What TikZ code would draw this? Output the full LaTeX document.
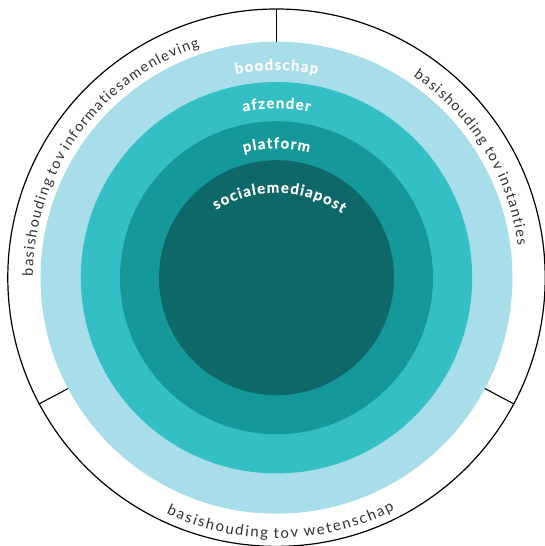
\documentclass[tikz,border=0pt]{standalone}
\usepackage{fontspec}
\setmainfont{Lato}
\newfontfamily\outerfont{Lato}
\newfontfamily\innerfont[BoldFeatures={FakeBold=0.4}]{Lato}
\newcommand\trk{\kern1.35pt}
\newcommand\trw{\kern1.75pt}
\newcommand\trb{\kern1.2pt}
\usetikzlibrary{decorations.text}
\definecolor{ringA}{RGB}{168,222,233}
\definecolor{ringB}{RGB}{51,191,196}
\definecolor{ringC}{RGB}{21,152,153}
\definecolor{ringD}{RGB}{13,104,103}
\definecolor{outertext}{RGB}{50,50,50}
\tikzset{
  divider/.style={line width=1.1pt, draw=black},
  rim/.style={line width=1.2pt, draw=black},
  outerlabel/.style={decorate, decoration={text along path, text align=center, text color=outertext,
      text={|\outerfont\fontsize{14.5}{15}\selectfont|#1}}},
  bottomlabel/.style={decorate, decoration={text along path, text align=center, text color=outertext,
      text={|\outerfont\fontsize{15}{15}\selectfont|#1}}},
  ringlabel/.style={decorate, decoration={text along path, text align=center, text color=white,
      text={|\innerfont\bfseries\fontsize{15}{15}\selectfont|#1}}},
}
\begin{document}
\begin{tikzpicture}[x=1pt,y=1pt]
\useasboundingbox (-276.5pt,-268.3pt) rectangle (268.5pt,277.7pt);
\clip (-276.5pt,-268.3pt) rectangle (268.5pt,277.7pt);
\fill[white] (-276.5pt,-268.3pt) rectangle (268.5pt,277.7pt);
% rings
\fill[ringA] (0,0) circle (236pt);
\fill[ringB] (0,0) circle (195.7pt);
\fill[ringC] (0,0) circle (156.5pt);
\fill[ringD] (0,0) circle (117.5pt);
% outer rim and dividers
\draw[rim] (0,0) circle (268.7pt);
\foreach \a in {90,208,332} \draw[divider] (\a:236pt) -- (\a:268.7pt);
% outer labels
\path[outerlabel={{b\trk}{a\trk}{s\trk}{i\trk}{s\trk}{h\trk}{o\trk}{u\trk}{d\trk}{i\trk}{n\trk}{g\trk} {t\trk}{o\trk}{v\trk} {i\trk}{n\trk}{f\trk}{o\trk}{r\trk}{m\trk}{a\trk}{t\trk}{i\trk}{e\trk}{s\trk}{a\trk}{m\trk}{e\trk}{n\trk}{l\trk}{e\trk}{v\trk}{i\trk}{n\trk}{g}}]
  (209:243.5pt) arc[start angle=209, end angle=79, radius=243.5pt];
\path[outerlabel={{b\trk}{a\trk}{s\trk}{i\trk}{s\trk}{h\trk}{o\trk}{u\trk}{d\trk}{i\trk}{n\trk}{g\trk} {t\trk}{o\trk}{v\trk} {i\trk}{n\trk}{s\trk}{t\trk}{a\trk}{n\trk}{t\trk}{i\trk}{e\trk}{s}}]
  (96.7:243.5pt) arc[start angle=96.7, end angle=-33.3, radius=243.5pt];
\path[bottomlabel={{b\trw}{a\trw}{s\trw}{i\trw}{s\trw}{h\trw}{o\trw}{u\trw}{d\trw}{i\trw}{n\trw}{g\trw} {t\trw}{o\trw}{v\trw} {w\trw}{e\trw}{t\trw}{e\trw}{n\trw}{s\trw}{c\trw}{h\trw}{a\trw}{p}}]
  (206:260.5pt) arc[start angle=206, end angle=336, radius=260.5pt];
% ring labels
\path[ringlabel={{b\trb}{o\trb}{o\trb}{d\trb}{s\trb}{c\trb}{h\trb}{a\trb}{p}}]
  (150:207.7pt) arc[start angle=150, end angle=30, radius=207.7pt];
\path[ringlabel={{a\trb}{f\trb}{z\trb}{e\trb}{n\trb}{d\trb}{e\trb}{r}}]
  (150:169.4pt) arc[start angle=150, end angle=30, radius=169.4pt];
\path[ringlabel={{p\trb}{l\trb}{a\trb}{t\trb}{f\trb}{o\trb}{r\trb}{m}}]
  (150:129.4pt) arc[start angle=150, end angle=30, radius=129.4pt];
\path[ringlabel={{s\trb}{o\trb}{c\trb}{i\trb}{a\trb}{l\trb}{e\trb}{m\trb}{e\trb}{d\trb}{i\trb}{a\trb}{p\trb}{o\trb}{s\trb}{t}}]
  ([shift={(0pt,-30pt)}]168.5:115pt) arc[start angle=168.5, end angle=8.5, radius=115pt];
\end{tikzpicture}
\end{document}
